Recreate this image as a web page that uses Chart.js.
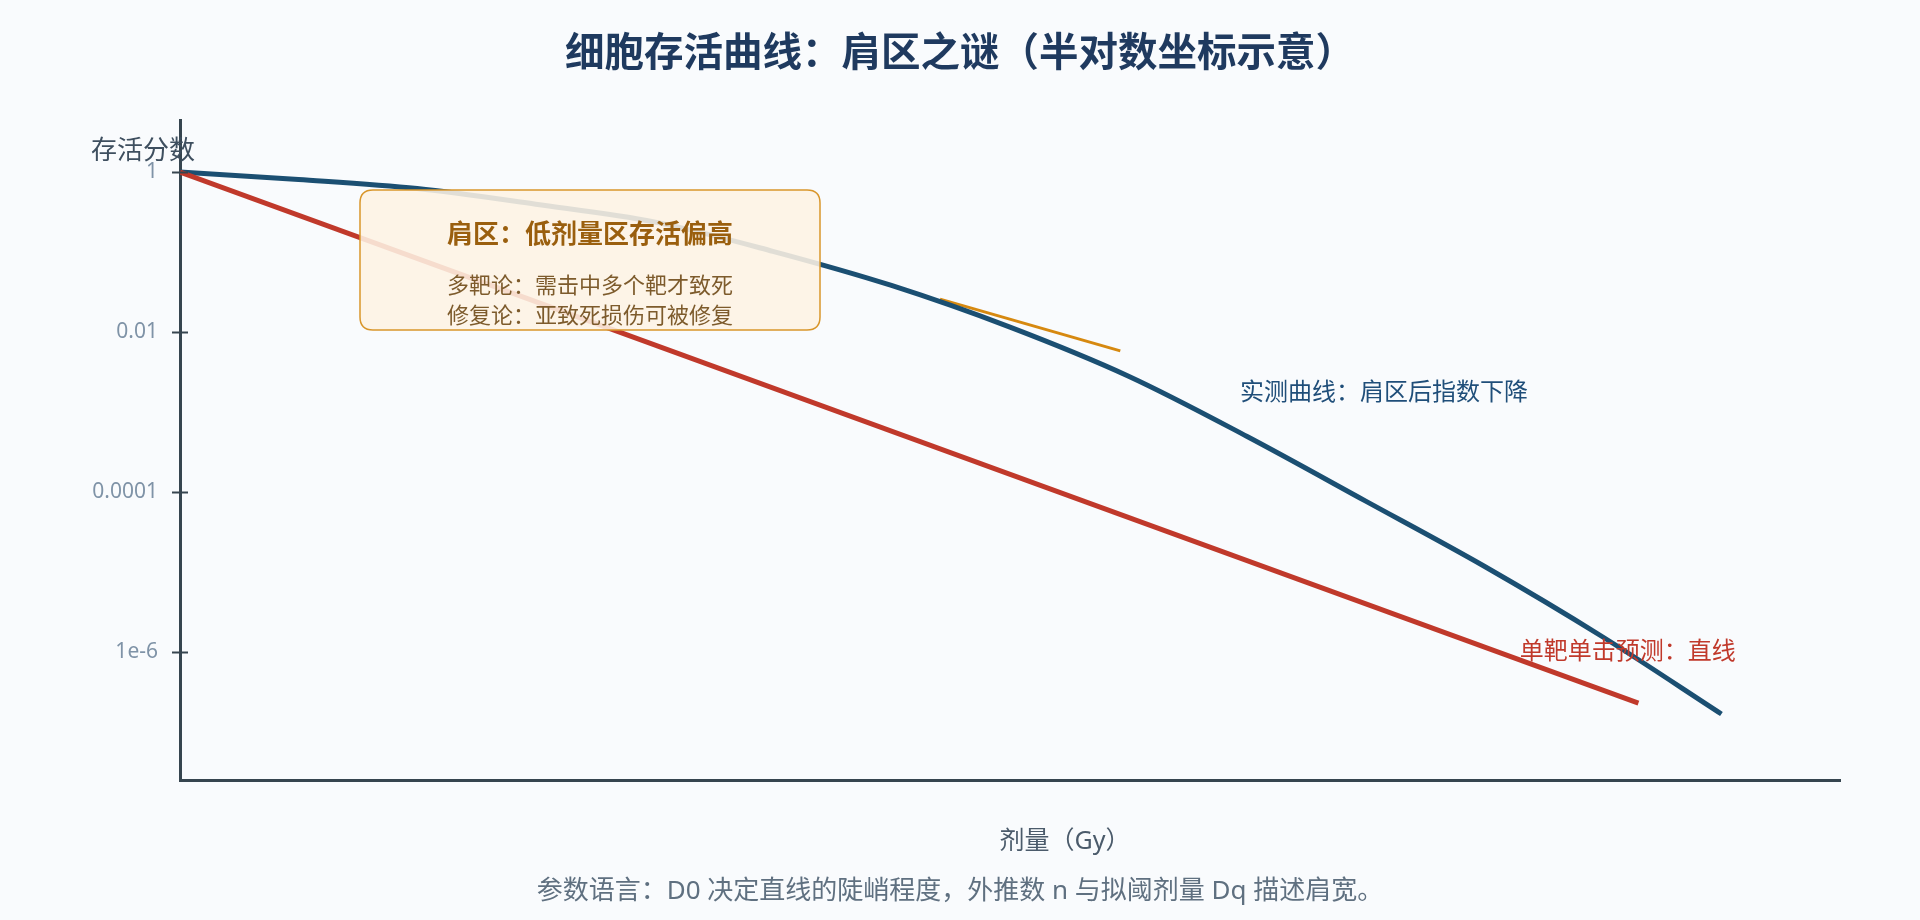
<!DOCTYPE html>
<html lang="zh-CN">
<head>
  <meta charset="UTF-8" />
  <title>细胞存活曲线：肩区之谜</title>
  <script src="https://cdn.jsdelivr.net/npm/chart.js@4.4.0/dist/chart.umd.min.js"></script>
  <style>
    html, body { margin: 0; padding: 0; background: #f9fbfd; }
    #wrap { width: 1920px; height: 920px; }
  </style>
</head>
<body>
  <div id="wrap"><canvas id="survivalChart" width="1920" height="920"></canvas></div>

  <script>
    const doseMeasured = [0, 1, 2, 3, 4, 5, 6, 7, 8, 9, 10, 11, 12, 13];
    const survivalMeasured = [1, 0.808, 0.622, 0.396, 0.238, 0.102, 0.0382, 0.0115, 0.0028, 0.000494, 0.0000769, 0.0000118, 0.00000154, 0.000000168];

    // single-target single-hit prediction (straight line on log axis)
    const doseSingleHit = [0, 12.3];
    const survivalSingleHit = [1, 0.00000023];

    // tangent after the shoulder
    const doseTangent = [6.41, 7.93];
    const survivalTangent = [0.0258, 0.0058];

    const yTickValues = [1, 0.01, 0.0001, 0.000001];
    const yTickLabels = ['1', '0.01', '0.0001', '1e-6'];

    const titleText = '细胞存活曲线：肩区之谜（半对数坐标示意）';
    const yTitle = '存活分数';
    const xTitle = '剂量（Gy）';
    const footText = '参数语言：D0 决定直线的陡峭程度，外推数 n 与拟阈剂量 Dq 描述肩宽。';
    const boxTitle = '肩区：低剂量区存活偏高';
    const boxLines = ['多靶论：需击中多个靶才致死', '修复论：亚致死损伤可被修复'];
    const labelMeasured = '实测曲线：肩区后指数下降';
    const labelSingle = '单靶单击预测：直线';

    const FONT = '"Noto Sans", "Noto Sans CJK SC", sans-serif';
    const AXIS = '#36454f';

    const toPoints = (xs, ys) => xs.map((x, i) => ({ x, y: ys[i] }));

    function roundBox(ctx, x, y, w, h, r) {
      ctx.beginPath();
      ctx.moveTo(x + r, y);
      ctx.lineTo(x + w - r, y);
      ctx.quadraticCurveTo(x + w, y, x + w, y + r);
      ctx.lineTo(x + w, y + h - r);
      ctx.quadraticCurveTo(x + w, y + h, x + w - r, y + h);
      ctx.lineTo(x + r, y + h);
      ctx.quadraticCurveTo(x, y + h, x, y + h - r);
      ctx.lineTo(x, y + r);
      ctx.quadraticCurveTo(x, y, x + r, y);
      ctx.closePath();
    }

    const decor = {
      id: 'decor',
      beforeDraw(chart) {
        const ctx = chart.ctx;
        ctx.save();
        ctx.fillStyle = '#f9fbfd';
        ctx.fillRect(0, 0, chart.width, chart.height);
        ctx.restore();
      },
      afterDatasetsDraw(chart) {
        const { ctx, chartArea: a, scales: { x, y } } = chart;
        ctx.save();
        // shoulder note box
        const bx = a.left + 180, by = a.top + 70, bw = 460, bh = 140;
        roundBox(ctx, bx, by, bw, bh, 13);
        ctx.fillStyle = 'rgba(253,243,228,0.88)';
        ctx.fill();
        ctx.lineWidth = 1.5;
        ctx.strokeStyle = '#d9962b';
        ctx.stroke();
        ctx.textAlign = 'center';
        ctx.textBaseline = 'middle';
        ctx.fillStyle = '#9a5f0e';
        ctx.font = `bold 26px ${FONT}`;
        ctx.fillText(boxTitle, bx + bw / 2, by + 46);
        ctx.fillStyle = '#7d5b2c';
        ctx.font = `22px ${FONT}`;
        boxLines.forEach((t, i) => ctx.fillText(t, bx + bw / 2, by + 97 + i * 30));

        // curve labels
        ctx.textAlign = 'left';
        ctx.font = `24px ${FONT}`;
        ctx.fillStyle = '#1f4e79';
        ctx.fillText(labelMeasured, x.getPixelForValue(8.94), y.getPixelForValue(0.00173));
        ctx.fillStyle = '#c0392b';
        ctx.fillText(labelSingle, x.getPixelForValue(11.3), y.getPixelForValue(0.000001));
        ctx.restore();
      },
      afterDraw(chart) {
        const { ctx, chartArea: a, scales: { y } } = chart;
        ctx.save();
        // tick marks crossing the y axis
        ctx.strokeStyle = AXIS;
        ctx.lineWidth = 2;
        yTickValues.forEach(v => {
          const py = Math.round(y.getPixelForValue(v)) + 0.5;
          ctx.beginPath();
          ctx.moveTo(a.left - 8, py);
          ctx.lineTo(a.left + 8, py);
          ctx.stroke();
        });

        ctx.textAlign = 'center';
        ctx.textBaseline = 'middle';
        // title
        ctx.fillStyle = '#1f3a5f';
        ctx.font = `bold 39.5px ${FONT}`;
        ctx.fillText(titleText, chart.width / 2, 55);
        // y title (horizontal, above the axis)
        ctx.fillStyle = '#3e4f5f';
        ctx.font = `26px ${FONT}`;
        ctx.fillText(yTitle, a.left - 37, y.getPixelForValue(1) - 20);
        // x title
        ctx.fillStyle = '#4b5b6b';
        ctx.font = `25px ${FONT}`;
        ctx.fillText(xTitle, (a.left + a.right) / 2 + 55, a.bottom + 62);
        // footnote
        ctx.fillStyle = '#5f7080';
        ctx.font = `26px ${FONT}`;
        ctx.fillText(footText, chart.width / 2, 892);
        ctx.restore();
      }
    };

    new Chart(document.getElementById('survivalChart'), {
      type: 'line',
      data: {
        datasets: [
          {
            label: '单靶单击',
            data: toPoints(doseSingleHit, survivalSingleHit),
            borderColor: '#c0392b',
            borderWidth: 5,
            pointRadius: 0,
            borderCapStyle: 'butt'
          },
          {
            label: '实测曲线',
            data: toPoints(doseMeasured, survivalMeasured),
            borderColor: '#1b4f72',
            borderWidth: 5,
            pointRadius: 0,
            cubicInterpolationMode: 'monotone'
          },
          {
            label: '切线',
            data: toPoints(doseTangent, survivalTangent),
            borderColor: '#d68910',
            borderWidth: 3,
            pointRadius: 0
          }
        ]
      },
      options: {
        responsive: false,
        devicePixelRatio: 1,
        animation: false,
        layout: { padding: { left: 0, right: 80, top: 120, bottom: 140 } },
        plugins: {
          legend: { display: false },
          tooltip: { enabled: false },
          title: { display: false }
        },
        scales: {
          x: {
            type: 'linear',
            min: 0,
            max: 14,
            ticks: { display: false },
            grid: { display: false, drawTicks: false },
            border: { display: true, color: AXIS, width: 3 },
            afterFit: s => { s.height = 0; }
          },
          y: {
            type: 'logarithmic',
            min: Math.pow(10, -7.6),
            max: Math.pow(10, 0.65),
            grid: { display: false, drawTicks: false },
            border: { display: true, color: AXIS, width: 3 },
            afterBuildTicks: s => { s.ticks = yTickValues.map(v => ({ value: v })); },
            ticks: {
              padding: 22,
              color: '#7f93a7',
              font: { family: FONT, size: 21 },
              callback: v => yTickLabels[yTickValues.indexOf(v)]
            },
            afterFit: s => { s.width = 180; }
          }
        }
      },
      plugins: [decor]
    });
  </script>
</body>
</html>
